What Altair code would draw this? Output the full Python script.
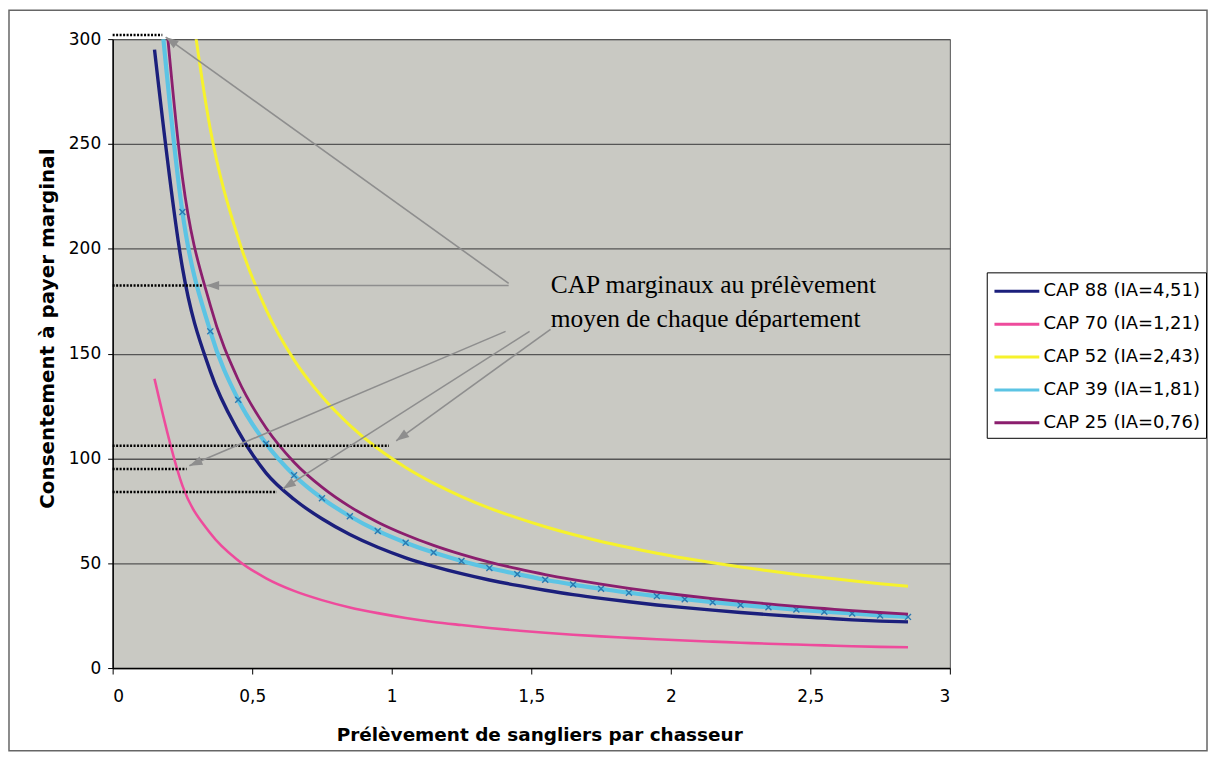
import math
import altair as alt
import pandas as pd

# ---------------- data ----------------
X = [0.15, 0.25, 0.35, 0.45, 0.55, 0.65, 0.75, 0.85, 0.95, 1.05, 1.15, 1.25, 1.35, 1.45,
     1.55, 1.65, 1.75, 1.85, 1.95, 2.05, 2.15, 2.25, 2.35, 2.45, 2.55, 2.65, 2.75, 2.85]

CAP88 = [295, 191, 141.5, 113, 93, 80.5, 71.2, 63.7, 57.6, 52.6, 48.5, 45, 42, 39.4,
         37.1, 35, 33.2, 31.6, 30.1, 28.8, 27.6, 26.5, 25.5, 24.6, 23.8, 23.0, 22.4, 22]
CAP70 = [138, 87, 64.3, 51.3, 42.8, 36.8, 32.4, 28.9, 26.2, 23.9, 22.0, 20.5, 19.1, 17.9,
         16.8, 15.9, 15.1, 14.4, 13.7, 13.1, 12.6, 12.1, 11.6, 11.2, 10.8, 10.4, 10.1, 9.9]
CAP52 = [None, 348, 257, 205, 171, 147, 129.5, 115.8, 104.7, 95.7, 88.2, 81.8, 76.3, 71.6,
         67.4, 63.7, 60.4, 57.5, 54.8, 52.4, 50.2, 48.2, 46.4, 44.6, 43.1, 41.6, 40.2, 39.0]
CAP39 = [345, 217.5, 160.6, 128, 107, 92, 81, 72.4, 65.4, 59.8, 55.1, 51.1, 47.7, 44.8,
         42.1, 39.8, 37.8, 35.9, 34.3, 32.8, 31.4, 30.1, 29.0, 27.9, 26.9, 26.0, 25.1, 24.4]
CAP25 = [373, 234, 173, 137.5, 114.5, 98.2, 86.3, 77.0, 69.6, 63.6, 58.5, 54.2, 50.5, 47.4,
         44.6, 42.2, 40.0, 38.0, 36.2, 34.6, 33.1, 31.8, 30.6, 29.4, 28.4, 27.4, 26.5, 25.7]

SERIES = ["CAP 88 (IA=4,51)", "CAP 70 (IA=1,21)", "CAP 52 (IA=2,43)",
          "CAP 39 (IA=1,81)", "CAP 25 (IA=0,76)"]
COLORS = ["#1b1f7c", "#ee4b9c", "#f6f22c", "#5cc4e4", "#8b1e6e"]
WIDTHS = [3.4, 2.6, 3, 4.2, 2.8]

# dotted reference lines (CAP at mean harvest)
DOT_Y = [302, 182.5, 106, 95, 84]
DOT_XEND = [0.178, 0.32, 0.99, 0.265, 0.588]

# annotation arrows (start -> tip)
ARR_X1 = [1.419, 1.419, 1.408, 1.494, 1.569]
ARR_Y1 = [183.5, 182.5, 160.6, 160.6, 161.6]
ARR_X2 = [0.19, 0.335, 0.275, 0.61, 1.016]
ARR_Y2 = [301, 182.5, 96.5, 85.5, 108.4]

NOTE_LINES = ["CAP marginaux au prélèvement", "moyen de chaque département"]
NOTE_X = [1.57, 1.57]
NOTE_Y = [182.5, 166.4]

X_TITLE = "Prélèvement de sangliers par chasseur"
Y_TITLE = "Consentement à payer marginal"

# ---------------- layout ----------------
W, H = 840, 631
PAD_L, PAD_T = 105, 30
SVG_W, SVG_H = 1204, 745
SANS = "DejaVu Sans"

rows = []
for name, vals in zip(SERIES, [CAP88, CAP70, CAP52, CAP39, CAP25]):
    for xv, yv in zip(X, vals):
        if yv is not None:
            rows.append({"series": name, "x": xv, "y": yv})
curves = pd.DataFrame(rows)

dots = pd.DataFrame({"x": [0.0] * len(DOT_Y), "x2": DOT_XEND, "y": DOT_Y})

ang = []
for x1, y1, x2, y2 in zip(ARR_X1, ARR_Y1, ARR_X2, ARR_Y2):
    dx = (x2 - x1) * W / 3.0
    dy = -(y2 - y1) * H / 300.0
    ang.append(math.degrees(math.atan2(dx, -dy)) % 360)
arrows = pd.DataFrame({"x": ARR_X1, "y": ARR_Y1, "x2": ARR_X2, "y2": ARR_Y2, "angle": ang})

notes = pd.DataFrame({"x": NOTE_X, "y": NOTE_Y, "t": NOTE_LINES})

X_AX = alt.Axis(title=X_TITLE, values=[0, 0.5, 1, 1.5, 2, 2.5, 3],
                labelExpr="replace(format(datum.value, '.1~f'), '.', ',')",
                grid=False, tickSize=6, tickColor="black", domainColor="black",
                domainWidth=1.5, labelPadding=15, labelFontSize=17, labelColor="black",
                labelFont=SANS, titleFont=SANS,
                titleFontSize=18.5, titleFontWeight="bold", titleColor="black",
                titlePadding=21, titleX=428)
Y_AX = alt.Axis(title=Y_TITLE, values=[0, 50, 100, 150, 200, 250, 300], format="d",
                grid=True, gridColor="#555555", gridWidth=1.3, tickSize=5,
                tickColor="black", domainColor="black", domainWidth=1.5,
                labelPadding=7, labelFontSize=17, labelColor="black",
                labelFont=SANS, titleFont=SANS,
                titleFontSize=20, titleFontWeight="bold", titleColor="black",
                titlePadding=11, titleY=290)
XS = alt.Scale(domain=[0, 3], nice=False, zero=False)
YS = alt.Scale(domain=[0, 300], nice=False)

LEG = alt.Legend(title=None, orient="none", legendX=877, legendY=234,
                 symbolType="M-1,0H3", symbolSize=506, symbolStrokeWidth=3,
                 labelFontSize=18, labelFont=SANS, labelColor="black",
                 labelOffset=25, rowPadding=11, padding=6, strokeColor="black",
                 fillColor="white", labelLimit=300)
COLOR = alt.Color("series:N", scale=alt.Scale(domain=SERIES, range=COLORS), legend=LEG)

base = alt.Chart(curves)
layers = []
for name, w in zip(SERIES, WIDTHS):
    if name == SERIES[4]:
        # markers on CAP 39 go under the CAP 25 line
        layers.append(
            base.transform_filter((alt.datum.series == SERIES[3]) & (alt.datum.y <= 300))
            .mark_point(shape="M-1,-1L1,1M-1,1L1,-1", size=36, filled=False,
                        strokeWidth=1.4, color="#2a78b0", opacity=1)
            .encode(x=alt.X("x:Q", scale=XS, axis=X_AX), y=alt.Y("y:Q", scale=YS, axis=Y_AX))
        )
    layers.append(
        base.transform_filter(alt.datum.series == name)
        .mark_line(strokeWidth=w, interpolate="monotone", clip=True)
        .encode(x=alt.X("x:Q", scale=XS, axis=X_AX), y=alt.Y("y:Q", scale=YS, axis=Y_AX),
                color=COLOR)
    )

dot_layer = alt.Chart(dots).mark_rule(color="black", strokeWidth=2.5, strokeDash=[2, 1.5]).encode(
    x=alt.X("x:Q", scale=XS, axis=X_AX), x2="x2:Q", y=alt.Y("y:Q", scale=YS, axis=Y_AX))

arrow_lines = alt.Chart(arrows).mark_rule(color="#8e8e8e", strokeWidth=1.6).encode(
    x=alt.X("x:Q", scale=XS, axis=X_AX), x2="x2:Q",
    y=alt.Y("y:Q", scale=YS, axis=Y_AX), y2="y2:Q")
arrow_heads = alt.Chart(arrows).mark_point(
    shape="M0,0L0.7,2L-0.7,2Z", size=169, filled=True, color="#8e8e8e", opacity=1).encode(
    x=alt.X("x2:Q", scale=XS, axis=X_AX), y=alt.Y("y2:Q", scale=YS, axis=Y_AX),
    angle=alt.Angle("angle:Q", scale=None))

note_layer = alt.Chart(notes).mark_text(
    font="Liberation Serif", fontSize=25.5, align="left", baseline="middle", color="black").encode(
    x=alt.X("x:Q", scale=XS, axis=X_AX), y=alt.Y("y:Q", scale=YS, axis=Y_AX), text="t:N")

frame = alt.Chart(pd.DataFrame({"k": [0]})).mark_rect(
    fill=None, stroke="#666666", strokeWidth=1.5, clip=False).encode(
    x=alt.value(-PAD_L + 1), x2=alt.value(SVG_W - PAD_L - 1),
    y=alt.value(-PAD_T + 1), y2=alt.value(SVG_H - PAD_T - 1))

chart = alt.layer(frame, *layers, dot_layer, arrow_lines, arrow_heads, note_layer).properties(
    width=W, height=H,
    autosize=alt.AutoSizeParams(type="none"),
    padding={"left": PAD_L, "top": PAD_T, "right": SVG_W - PAD_L - W, "bottom": SVG_H - PAD_T - H},
    background="white",
).configure_view(fill="#c9c9c3", stroke="#555555", strokeWidth=1)

chart.save("out.html", embed_options={"renderer": "svg", "actions": False})
